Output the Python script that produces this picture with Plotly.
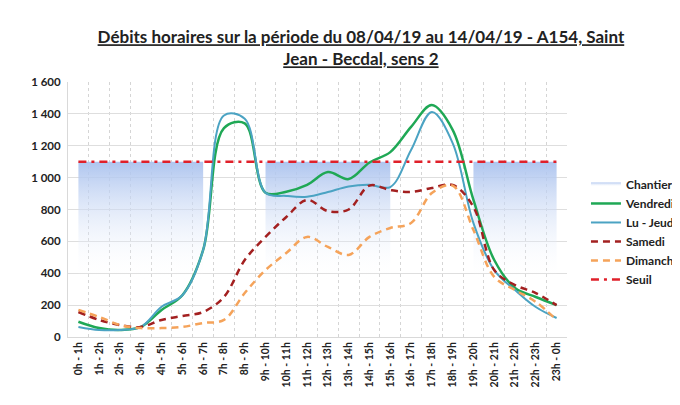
import plotly.graph_objects as go

categories = [f"{h}h - {(h + 1) % 24}h" for h in range(24)]

chantier = [1100, 1100, 1100, 1100, 1100, 1100, 1100, None, None,
            1100, 1100, 1100, 1100, 1100, 1100, 1100, None, None, None,
            1100, 1100, 1100, 1100, 1100]
vendredi = [96, 56, 44, 63, 170, 262, 546, 1310, 1340, 905, 912, 955, 1035, 991,
            1095, 1160, 1318, 1455, 1300, 860, 483, 307, 251, 200]
lu_jeudi = [63, 44, 44, 63, 190, 262, 546, 1390, 1370, 905, 885, 880, 910, 945,
            955, 941, 1173, 1412, 1217, 715, 420, 295, 188, 119]
samedi = [157, 107, 75, 63, 107, 132, 157, 251, 483, 628, 753, 860, 790, 800,
          950, 922, 910, 935, 954, 816, 420, 326, 276, 200]
dimanche = [170, 126, 75, 56, 56, 63, 88, 107, 276, 420, 527, 628, 565, 515,
            628, 684, 715, 903, 950, 671, 377, 295, 220, 107]
seuil = [1100] * 24

y_ticks = [0, 200, 400, 600, 800, 1000, 1200, 1400, 1600]
y_ticktext = ["0", "200", "400", "600", "800", "1 000", "1 200", "1 400", "1 600"]

FONT = "Lato"

fig = go.Figure()

# Chantier: split the series into its contiguous runs so each block fills separately
segments = []
current = []
for i, v in enumerate(chantier):
    if v is None:
        if current:
            segments.append(current)
            current = []
    else:
        current.append(i)
if current:
    segments.append(current)

for k, seg in enumerate(segments):
    fig.add_trace(go.Scatter(
        x=[categories[i] for i in seg], y=[chantier[i] for i in seg],
        name="Chantier", legendgroup="chantier", showlegend=(k == 0),
        mode="lines", line=dict(width=0, color="rgb(205,210,240)"),
        fill="tozeroy",
        fillgradient=dict(type="vertical", start=0, stop=1100,
                          colorscale=[[0, "rgba(255,255,255,0)"],
                                      [0.32, "rgba(255,255,255,0)"],
                                      [1, "rgba(170,194,238,0.95)"]]),
    ))

fig.add_trace(go.Scatter(
    x=categories, y=vendredi, name="Vendredi", mode="lines",
    line=dict(color="#1fa855", width=2.5, shape="spline", smoothing=1),
))
fig.add_trace(go.Scatter(
    x=categories, y=lu_jeudi, name="Lu - Jeudi", mode="lines",
    line=dict(color="#4ba3c3", width=2, shape="spline", smoothing=1),
))
fig.add_trace(go.Scatter(
    x=categories, y=samedi, name="Samedi", mode="lines",
    line=dict(color="#a32020", width=2.5, shape="spline", smoothing=1, dash="7px,5px"),
))
fig.add_trace(go.Scatter(
    x=categories, y=dimanche, name="Dimanche", mode="lines",
    line=dict(color="#f5a35a", width=2.5, shape="spline", smoothing=1, dash="7px,5px"),
))
fig.add_trace(go.Scatter(
    x=categories, y=seuil, name="Seuil", mode="lines",
    line=dict(color="#e0202a", width=2.5, dash="8px,5px,3px,5px"),
))

fig.update_layout(
    width=680, height=405,
    margin=dict(l=60, r=121, t=74, b=76, autoexpand=False),
    paper_bgcolor="white", plot_bgcolor="white",
    font=dict(family=FONT, color="#222"),
    title=dict(
        text="<b><u>Débits horaires sur la période du 08/04/19 au 14/04/19 - A154, Saint</u></b><br>"
             "<b><u>Jean - Becdal, sens 2</u></b>",
        x=0.519, xanchor="center", y=0.913, yanchor="middle",
        font=dict(family=FONT, size=17, color="#222"),
    ),
    legend=dict(
        x=1.038, xanchor="left", y=0.655, yanchor="top",
        font=dict(family=FONT, size=12, color="#222", weight="bold"),
        itemwidth=30, tracegroupgap=0, bgcolor="rgba(0,0,0,0)",
    ),
    showlegend=True,
)

fig.update_xaxes(
    type="category", categoryorder="array", categoryarray=categories,
    range=[-0.5, 23.5], tickangle=-90,
    tickfont=dict(family=FONT, size=10.5, color="#222", weight="bold"),
    showgrid=True, gridcolor="#d5d5d5", griddash="dot", tickson="boundaries",
    showline=True, linecolor="#d9d9d9", ticks="", zeroline=False, automargin=False,
)
fig.update_yaxes(
    range=[0, 1600], tickvals=y_ticks, ticktext=y_ticktext,
    tickfont=dict(family=FONT, size=11.5, color="#222", weight="bold"),
    showgrid=True, gridcolor="#dedede", zeroline=False, ticklabelstandoff=4,
    showline=True, linecolor="#d9d9d9", ticks="", automargin=False,
)

fig.write_html("out.html")
